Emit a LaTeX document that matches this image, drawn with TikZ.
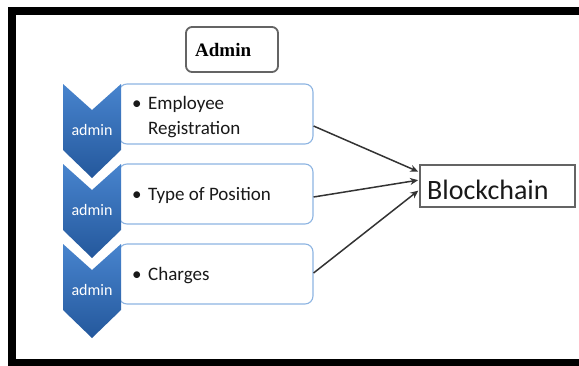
\documentclass[tikz,border=0pt]{standalone}
\usepackage{fontspec}
\setmainfont{Carlito}
\newfontfamily\headserif{Liberation Serif}
\usetikzlibrary{calc,arrows.meta}

\definecolor{chevtop}{RGB}{72,132,206}
\definecolor{chevbot}{RGB}{36,88,156}
\definecolor{boxline}{RGB}{141,180,226}
\definecolor{edgegray}{RGB}{100,100,100}

\begin{document}
\begin{tikzpicture}[x=1pt,y=-1pt,
  itembox/.style={draw=boxline, line width=1.1pt, fill=white, rounded corners=8pt,
    minimum width=194pt, minimum height=60pt, inner sep=0pt},
  chevlabel/.style={text=white, font=\fontsize{16}{16}\selectfont, inner sep=0pt, anchor=base},
  itemtext/.style={font=\fontsize{19}{25}\selectfont, align=left, anchor=base west,
    inner sep=0pt, text=black!90},
  link/.style={draw=black!80, line width=1.5pt, shorten >=1pt,
    -{Stealth[length=8pt,width=7pt]}},
]
\useasboundingbox (0,0) rectangle (579,365);
\clip (0,0) rectangle (579,365);

% outer frame (its right side runs off the page)
\draw[line width=8pt] (11.5,11) rectangle (600,363);

% title box
\node[draw=edgegray, line width=1.8pt, rounded corners=6pt, fill=white,
  minimum width=92pt, minimum height=45pt] (adminbox) at (232,49.5) {};
\node[anchor=base west, inner sep=0pt, font=\headserif\bfseries\fontsize{19}{19}\selectfont]
  (admintitle) at (195,56) {Admin};

% item boxes
\node[itembox] (box1) at (216,114) {};
\node[itembox] (box2) at (216,194) {};
\node[itembox] (box3) at (216,274) {};

% chevrons, drawn over the left ends of the boxes
\foreach \k in {0,1,2}{
  \pgfmathsetmacro{\yt}{84+80*\k}
  \shade[top color=chevtop, bottom color=chevbot]
    (63,\yt) -- (92,\yt+26) -- (121,\yt) -- (121,\yt+66)
    -- (92,\yt+94) -- (63,\yt+66) -- cycle;
}
\node[chevlabel] (lab1) at (92,135) {admin};
\node[chevlabel] (lab2) at (92,215) {admin};
\node[chevlabel] (lab3) at (92,295) {admin};

% item texts (a two-line node sits on the baseline of its last line)
\node[itemtext] (txt1) at (132,134)
  {\makebox[16pt][l]{\textbullet}Employee\\\hspace*{16pt}Registration};
\node[itemtext] (txt2) at (132,200) {\makebox[16pt][l]{\textbullet}Type of Position};
\node[itemtext] (txt3) at (132,280) {\makebox[16pt][l]{\textbullet}Charges};

% blockchain box
\node[draw=edgegray, line width=1.8pt, fill=white, minimum width=155pt,
  minimum height=42pt, inner sep=0pt] (bc) at (497.5,186) {};
\node[anchor=base west, inner sep=0pt, font=\fontsize{28}{28}\selectfont, text=black!90]
  (bctext) at (427,199) {Blockchain};

% connectors
\draw[link] ($(box1.east)+(0,12)$) -- ($(bc.west)+(0,-14)$);
\draw[link] ($(box2.east)+(0,3)$) -- ($(bc.west)+(0,-6)$);
\draw[link] ($(box3.east)+(0,-1)$) -- ($(bc.west)+(0,4)$);
\end{tikzpicture}
\end{document}
